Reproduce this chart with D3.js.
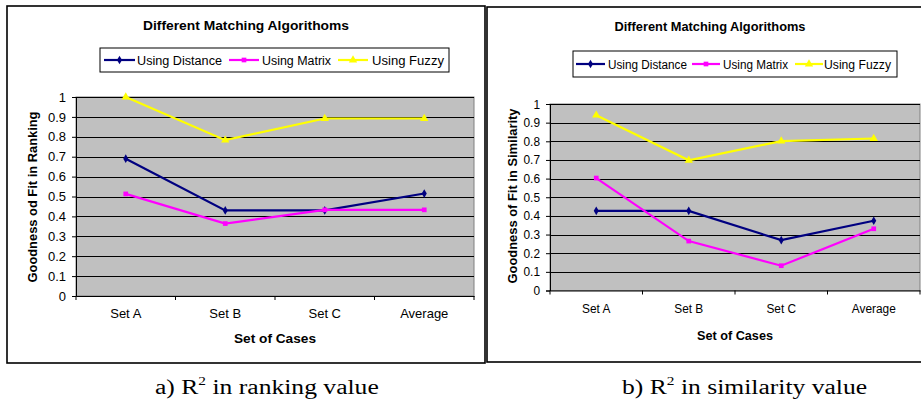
<!DOCTYPE html>
<html><head><meta charset="utf-8">
<script src="https://cdn.jsdelivr.net/npm/d3@7"></script>
<style>body{margin:0;background:#fff;}svg{display:block;}</style>
</head><body>
<script>
const categories = ["Set A", "Set B", "Set C", "Average"];
const seriesNames = ["Using Distance", "Using Matrix", "Using Fuzzy"];
const rankDistance = [0.69, 0.43, 0.43, 0.515];
const rankMatrix = [0.513, 0.364, 0.433, 0.433];
const rankFuzzy = [1.0, 0.783, 0.892, 0.892];
const simDistance = [0.427, 0.427, 0.27, 0.374];
const simMatrix = [0.603, 0.265, 0.133, 0.331];
const simFuzzy = [0.94, 0.698, 0.801, 0.815];
const yTicks = [0, 0.1, 0.2, 0.3, 0.4, 0.5, 0.6, 0.7, 0.8, 0.9, 1];
const chartTitle = "Different Matching Algorithoms";
const xTitle = "Set of Cases";

const colors = ["#000080", "#FF00FF", "#FFFF00"];
const W = 921, H = 401;
const FONT = "Liberation Sans, Arial, sans-serif";
const svg = d3.select("body").append("svg").attr("width", W).attr("height", H);

function stretch(sel, f) {
  sel.each(function () {
    const L = this.getComputedTextLength();
    d3.select(this).attr("textLength", L * f).attr("lengthAdjust", "spacingAndGlyphs");
  });
}

function drawChart(cfg) {
  const g = svg.append("g");
  g.append("rect").attr("x", cfg.frame[0]).attr("y", cfg.frame[1]).attr("width", cfg.frame[2]).attr("height", cfg.frame[3])
    .attr("fill", "#fff").attr("stroke", "#000").attr("stroke-width", 1.6);
  const x = d3.scaleBand().domain(categories).range([cfg.plot[0], cfg.plot[1]]);
  const y = d3.scaleLinear().domain([0, 1]).range([cfg.plot[3], cfg.plot[2]]);
  g.append("rect").attr("x", cfg.plot[0]).attr("y", cfg.plot[2]).attr("width", cfg.plot[1] - cfg.plot[0]).attr("height", cfg.plot[3] - cfg.plot[2])
    .attr("fill", "#C0C0C0").attr("stroke", "#808080").attr("stroke-width", 1);
  g.selectAll(".grid").data(yTicks.filter(d => d > 0)).enter().append("line")
    .attr("x1", cfg.plot[0]).attr("x2", cfg.plot[1])
    .attr("y1", d => Math.round(y(d)) + 0.5).attr("y2", d => Math.round(y(d)) + 0.5)
    .attr("stroke", "#000").attr("stroke-width", 1);
  const ya = g.append("g").attr("transform", `translate(${cfg.plot[0]},0)`)
    .call(d3.axisLeft(y).tickValues(yTicks).tickFormat(d => String(+d.toFixed(1))).tickSize(4).tickPadding(6));
  ya.select(".domain").attr("stroke", "#000");
  ya.selectAll("text").attr("font-family", FONT).attr("font-size", cfg.yTickFont).attr("fill", "#000");
  stretch(ya.selectAll("text"), cfg.tickStretch);
  const xa = g.append("g").attr("transform", `translate(0,${cfg.plot[3]})`)
    .call(d3.axisBottom(x).tickSize(0).tickPadding(cfg.xPad));
  xa.select(".domain").attr("stroke", "#000");
  xa.selectAll("text").attr("font-family", FONT).attr("font-size", cfg.xTickFont).attr("fill", "#000");
  stretch(xa.selectAll("text"), cfg.tickStretch);
  const bounds = categories.map(c => x(c)).concat([cfg.plot[1]]);
  g.selectAll(".xt").data(bounds).enter().append("line")
    .attr("x1", d => d).attr("x2", d => d).attr("y1", cfg.plot[3]).attr("y2", cfg.plot[3] + 4).attr("stroke", "#000");
  const line = d3.line().x((d, i) => x(categories[i]) + x.bandwidth() / 2).y(d => y(d));
  const syms = [d3.symbolDiamond, d3.symbolSquare, d3.symbolTriangle];
  cfg.series.forEach((vals, si) => {
    g.append("path").datum(vals).attr("d", line).attr("fill", "none").attr("stroke", colors[si]).attr("stroke-width", 2.2);
    g.selectAll(null).data(vals).enter().append("path")
      .attr("d", d3.symbol().type(syms[si]).size(si === 2 ? 30 : 22))
      .attr("transform", (d, i) => `translate(${x(categories[i]) + x.bandwidth() / 2},${y(d)})`)
      .attr("fill", colors[si]);
  });
  g.append("text").attr("x", cfg.titleX).attr("y", cfg.titleY).attr("text-anchor", "middle")
    .attr("font-family", FONT).attr("font-weight", "bold").attr("font-size", 12)
    .attr("textLength", cfg.titleLen).attr("lengthAdjust", "spacingAndGlyphs").text(chartTitle);
  const L = cfg.legend;
  g.append("rect").attr("x", L.box[0]).attr("y", L.box[1]).attr("width", L.box[2]).attr("height", L.box[3])
    .attr("fill", "#fff").attr("stroke", "#000").attr("stroke-width", 1);
  const my = L.box[1] + L.box[3] / 2;
  seriesNames.forEach((n, si) => {
    const it = L.items[si];
    g.append("line").attr("x1", it[0]).attr("x2", it[1]).attr("y1", my).attr("y2", my).attr("stroke", colors[si]).attr("stroke-width", 2.2);
    g.append("path").attr("d", d3.symbol().type(syms[si]).size(si === 2 ? 30 : 22))
      .attr("transform", `translate(${(it[0] + it[1]) / 2},${my})`).attr("fill", colors[si]);
    g.append("text").attr("x", it[2]).attr("y", my + 4.5)
      .attr("font-family", FONT).attr("font-size", L.font)
      .attr("textLength", it[3]).attr("lengthAdjust", "spacingAndGlyphs").text(n);
  });
  g.append("text").attr("transform", `translate(${cfg.yLabel[0]},${cfg.yLabel[1]}) rotate(-90)`).attr("text-anchor", "middle")
    .attr("font-family", FONT).attr("font-weight", "bold").attr("font-size", 12.5)
    .attr("textLength", cfg.yLabelLen).attr("lengthAdjust", "spacingAndGlyphs").text(cfg.yTitle);
  g.append("text").attr("x", (cfg.plot[0] + cfg.plot[1]) / 2).attr("y", cfg.xTitleY).attr("text-anchor", "middle")
    .attr("font-family", FONT).attr("font-weight", "bold").attr("font-size", 13)
    .attr("textLength", cfg.xTitleLen).attr("lengthAdjust", "spacingAndGlyphs").text(xTitle);
}

drawChart({
  frame: [7, 6, 478, 357],
  plot: [76, 474, 97, 296],
  series: [rankDistance, rankMatrix, rankFuzzy],
  yTickFont: 13, xTickFont: 13, tickStretch: 1.0, xPad: 13,
  titleX: 246, titleY: 29.5, titleLen: 206,
  legend: { box: [100, 48, 349, 24], font: 12.5, items: [[104, 135, 137, 85], [229, 259, 262, 69], [338, 368, 372, 72]] },
  yLabel: [37, 197], yLabelLen: 171, yTitle: "Goodness od Fit in Ranking",
  xTitleY: 342.5, xTitleLen: 82
});
drawChart({
  frame: [487, 7, 440, 355],
  plot: [550, 920, 104, 290.5],
  series: [simDistance, simMatrix, simFuzzy],
  yTickFont: 12.5, xTickFont: 12.5, tickStretch: 0.95, xPad: 14,
  titleX: 710, titleY: 31, titleLen: 191,
  legend: { box: [573, 51, 324, 26], font: 12.5, items: [[576, 605, 608, 79], [692, 720, 723, 65], [795, 823, 824, 67]] },
  yLabel: [517, 196], yLabelLen: 175, yTitle: "Goodness of Fit in Similarity",
  xTitleY: 340, xTitleLen: 76
});

function caption(x0, pre, post) {
  const t = svg.append("text").attr("transform", `translate(${x0},394) scale(1.28,1)`)
    .attr("font-family", "Liberation Serif, Times New Roman, serif").attr("font-size", 20);
  t.append("tspan").text(pre);
  t.append("tspan").attr("dy", -9).attr("font-size", 12).text("2");
  t.append("tspan").attr("dy", 9).text(post);
}
caption(155, "a) R", " in ranking value");
caption(622, "b) R", " in similarity value");
</script>
</body></html>
